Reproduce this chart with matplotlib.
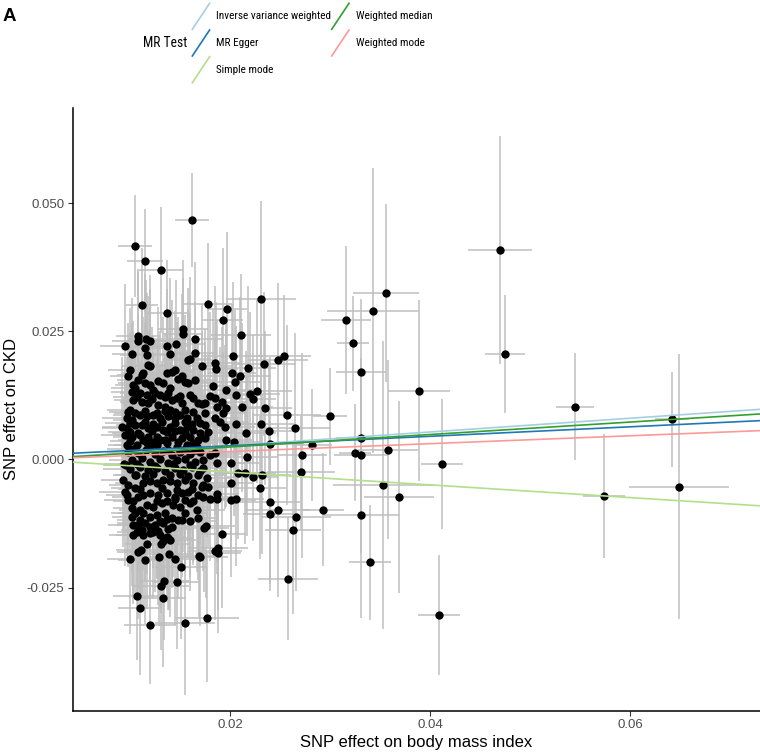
import numpy as np
import matplotlib
matplotlib.use("Agg")
import matplotlib.pyplot as plt
from matplotlib import font_manager
from matplotlib.lines import Line2D

# ---------------- data ----------------
bmi_top = [0.0105,0.0115,0.0131,0.0162,0.0112,0.0137,0.0178,0.0197,0.0193,0.0231,
           0.0211,0.0153,0.0153,0.0165,0.0165,0.0095,0.0102,0.0108,0.0108,0.0116,
           0.0120,0.0115,0.0117,0.0118,0.0137,0.0140,0.0146,0.0158,0.0160,0.0172,
           0.0185,0.0186,0.0203,0.0218,0.0234,0.0248,0.0254,0.0202,0.0210,0.0205]
ckd_top = [0.0417,0.0388,0.0370,0.0467,0.0302,0.0285,0.0303,0.0294,0.0272,0.0314,
           0.0242,0.0255,0.0245,0.0235,0.0208,0.0222,0.0206,0.0240,0.0232,0.0235,
           0.0231,0.0217,0.0204,0.0184,0.0222,0.0205,0.0225,0.0194,0.0197,0.0183,
           0.0189,0.0177,0.0201,0.0179,0.0186,0.0194,0.0201,0.0168,0.0163,0.0151]
se_bmi_top = [0.0017,0.0018,0.0022,0.0017,0.0016,0.0020,0.0024,0.0020,0.0020,0.0035,
              0.0030,0.0025,0.0020,0.0028,0.0022,0.0025,0.0020,0.0022,0.0026,0.0018,
              0.0024,0.0020,0.0027,0.0019,0.0023,0.0021,0.0029,0.0025,0.0020,0.0030,
              0.0026,0.0022,0.0030,0.0028,0.0032,0.0030,0.0027,0.0024,0.0031,0.0026]
se_ckd_top = [0.0100,0.0100,0.0123,0.0092,0.0110,0.0105,0.0120,0.0150,0.0140,0.0190,
              0.0120,0.0135,0.0110,0.0150,0.0100,0.0120,0.0110,0.0125,0.0140,0.0115,
              0.0130,0.0145,0.0120,0.0135,0.0110,0.0150,0.0125,0.0140,0.0160,0.0120,
              0.0150,0.0130,0.0145,0.0160,0.0140,0.0150,0.0120,0.0135,0.0155,0.0140]

bmi_mid = [0.0100,0.0098,0.0112,0.0113,0.0120,0.0137,0.0142,0.0145,0.0152,0.0155,
           0.0158,0.0165,0.0103,0.0105,0.0102,0.0115,0.0120,0.0123,0.0133,0.0140,
           0.0110,0.0117,0.0125,0.0130,0.0138,0.0142,0.0150,0.0152,0.0160,0.0168,
           0.0175,0.0103,0.0112,0.0118,0.0128,0.0135,0.0140,0.0100,0.0105,0.0097,
           0.0102,0.0110,0.0117,0.0123,0.0130,0.0138,0.0145,0.0150,0.0157,0.0167,
           0.0170,0.0092,0.0097,0.0105,0.0112,0.0118,0.0127,0.0133,0.0140,0.0150,
           0.0157,0.0163,0.0170,0.0095,0.0102,0.0110,0.0118,0.0127,0.0135,0.0142,
           0.0152,0.0160,0.0168,0.0175,0.0097,0.0107,0.0117,0.0127,0.0137,0.0147,
           0.0157,0.0167]
ckd_mid = [0.0175,0.0162,0.0165,0.0168,0.0182,0.0168,0.0171,0.0175,0.0162,0.0152,
           0.0149,0.0155,0.0145,0.0139,0.0132,0.0149,0.0145,0.0136,0.0149,0.0139,
           0.0129,0.0126,0.0129,0.0126,0.0129,0.0116,0.0123,0.0110,0.0126,0.0110,
           0.0110,0.0116,0.0113,0.0110,0.0106,0.0103,0.0097,0.0097,0.0090,0.0080,
           0.0077,0.0087,0.0084,0.0087,0.0080,0.0084,0.0080,0.0087,0.0080,0.0080,
           0.0071,0.0064,0.0061,0.0067,0.0067,0.0061,0.0064,0.0058,0.0064,0.0058,
           0.0064,0.0058,0.0051,0.0048,0.0044,0.0048,0.0044,0.0044,0.0038,0.0044,
           0.0041,0.0044,0.0038,0.0041,0.0028,0.0028,0.0032,0.0028,0.0032,0.0025,
           0.0028,0.0025]
se_bmi_mid = [0.0022,0.0018,0.0025,0.0020,0.0028,0.0021,0.0024,0.0019,0.0030,0.0023,
              0.0026,0.0020,0.0018,0.0024,0.0021,0.0027,0.0019,0.0025,0.0022,0.0029,
              0.0020,0.0023,0.0026,0.0018,0.0024,0.0021,0.0028,0.0020,0.0025,0.0031,
              0.0027,0.0019,0.0022,0.0026,0.0020,0.0024,0.0018,0.0023,0.0021,0.0025,
              0.0019,0.0027,0.0022,0.0020,0.0026,0.0023,0.0018,0.0029,0.0021,0.0024,
              0.0028,0.0020,0.0025,0.0019,0.0023,0.0027,0.0021,0.0024,0.0018,0.0026,
              0.0022,0.0029,0.0020,0.0024,0.0019,0.0026,0.0021,0.0023,0.0027,0.0020,
              0.0025,0.0022,0.0028,0.0024,0.0019,0.0023,0.0021,0.0026,0.0020,0.0024,
              0.0022,0.0027]
se_ckd_mid = [0.0120,0.0105,0.0135,0.0110,0.0150,0.0125,0.0140,0.0115,0.0160,0.0130,
              0.0145,0.0110,0.0125,0.0100,0.0135,0.0120,0.0155,0.0105,0.0130,0.0145,
              0.0115,0.0140,0.0100,0.0125,0.0150,0.0110,0.0135,0.0120,0.0160,0.0130,
              0.0145,0.0105,0.0125,0.0140,0.0115,0.0100,0.0130,0.0150,0.0110,0.0120,
              0.0135,0.0105,0.0145,0.0120,0.0100,0.0130,0.0115,0.0140,0.0125,0.0155,
              0.0110,0.0135,0.0100,0.0120,0.0145,0.0115,0.0130,0.0105,0.0140,0.0125,
              0.0150,0.0110,0.0135,0.0120,0.0100,0.0130,0.0145,0.0115,0.0125,0.0105,
              0.0140,0.0120,0.0135,0.0110,0.0130,0.0100,0.0145,0.0115,0.0125,0.0140,
              0.0110,0.0130]

bmi_fill = [0.0108,0.0128,0.0148,
            0.0107,0.0122,0.0135,0.0147,0.0163,
            0.0098,0.0115,0.0127,0.0135,0.0145,0.0155,0.0163,0.0175,
            0.0100,0.0115,0.0123,0.0132,0.0145,0.0155,0.0162,
            0.0100,0.0108,0.0122,0.0137,0.0145,0.0155,
            0.0100,0.0113,0.0123,0.0130,0.0148,0.0163,
            0.0103,0.0120,0.0138,0.0155,0.0165,
            0.0096,0.0107,0.0125,0.0143,0.0160,
            0.0105,0.0115,0.0123,0.0140,0.0150,0.0158,0.0168,
            0.0110,0.0132,0.0147,0.0162,
            0.0098,0.0127,0.0145,0.0163,
            0.0110,0.0130,0.0137,0.0152,
            0.0112,0.0128,0.0138]
ckd_fill = [0.0156,0.0153,0.0158,
            0.0121,0.0118,0.0122,0.0119,0.0120,
            0.0093,0.0095,0.0091,0.0094,0.0092,0.0096,0.0093,0.0090,
            0.0072,0.0074,0.0070,0.0073,0.0071,0.0074,0.0069,
            0.0054,0.0052,0.0056,0.0053,0.0055,0.0051,
            0.0036,0.0038,0.0034,0.0037,0.0035,0.0033,
            0.0020,0.0022,0.0018,0.0021,0.0019,
            -0.0010,-0.0008,-0.0012,-0.0009,-0.0011,
            -0.0030,-0.0032,-0.0028,-0.0031,-0.0029,-0.0033,-0.0030,
            -0.0058,-0.0056,-0.0060,-0.0057,
            -0.0080,-0.0082,-0.0078,-0.0081,
            -0.0118,-0.0120,-0.0116,-0.0119,
            -0.0137,-0.0139,-0.0135]
se_bmi_fill = [0.0021,0.0025,0.0019,
               0.0024,0.0020,0.0027,0.0022,0.0026,
               0.0019,0.0023,0.0026,0.0021,0.0028,0.0020,0.0024,0.0022,
               0.0025,0.0019,0.0023,0.0027,0.0021,0.0024,0.0020,
               0.0022,0.0026,0.0019,0.0024,0.0028,0.0021,
               0.0020,0.0025,0.0023,0.0027,0.0019,0.0024,
               0.0026,0.0021,0.0024,0.0020,0.0028,
               0.0023,0.0019,0.0025,0.0022,0.0027,
               0.0020,0.0024,0.0021,0.0026,0.0019,0.0023,0.0028,
               0.0022,0.0025,0.0020,0.0027,
               0.0024,0.0021,0.0026,0.0019,
               0.0023,0.0027,0.0020,0.0025,
               0.0021,0.0024,0.0026]
se_ckd_fill = [0.0130,0.0145,0.0120,
               0.0115,0.0140,0.0125,0.0150,0.0110,
               0.0135,0.0120,0.0145,0.0105,0.0130,0.0155,0.0115,0.0140,
               0.0125,0.0110,0.0140,0.0120,0.0150,0.0130,0.0105,
               0.0145,0.0115,0.0130,0.0120,0.0140,0.0110,
               0.0125,0.0150,0.0105,0.0135,0.0120,0.0145,
               0.0130,0.0115,0.0140,0.0125,0.0110,
               0.0120,0.0145,0.0130,0.0105,0.0135,
               0.0140,0.0120,0.0150,0.0115,0.0130,0.0125,0.0145,
               0.0110,0.0135,0.0120,0.0140,
               0.0130,0.0150,0.0115,0.0125,
               0.0140,0.0120,0.0135,0.0110,
               0.0125,0.0145,0.0130]

bmi_right = [0.0183,0.0196,0.0180,0.0185,0.0192,0.0187,0.0206,0.0220,0.0223,0.0227,
             0.0172,0.0196,0.0193,0.0212,0.0235,0.0257,0.0185,0.0190,0.0195,0.0206,
             0.0231,0.0239,0.0265,0.0175,0.0178,0.0216,0.0196,0.0204,0.0240,0.0185,
             0.0180,0.0217]
ckd_right = [0.0143,0.0136,0.0123,0.0119,0.0113,0.0103,0.0125,0.0128,0.0118,0.0134,
             0.0108,0.0100,0.0090,0.0102,0.0100,0.0087,0.0080,0.0074,0.0064,0.0069,
             0.0069,0.0056,0.0061,0.0067,0.0054,0.0052,0.0038,0.0034,0.0030,0.0012,
             0.0009,0.0005]
se_bmi_right = [0.0025,0.0030,0.0022,0.0028,0.0024,0.0032,0.0027,0.0030,0.0023,0.0035,
                0.0026,0.0029,0.0022,0.0031,0.0027,0.0034,0.0024,0.0028,0.0030,0.0025,
                0.0033,0.0028,0.0036,0.0023,0.0027,0.0030,0.0026,0.0029,0.0034,0.0024,
                0.0028,0.0031]
se_ckd_right = [0.0150,0.0130,0.0165,0.0120,0.0145,0.0170,0.0135,0.0160,0.0125,0.0180,
                0.0140,0.0155,0.0120,0.0165,0.0150,0.0175,0.0130,0.0145,0.0160,0.0125,
                0.0170,0.0140,0.0185,0.0135,0.0150,0.0160,0.0130,0.0145,0.0170,0.0120,
                0.0140,0.0155]

bmi_zero = [0.0098,0.0108,0.0116,0.0125,0.0133,0.0142,0.0150,0.0160,0.0170,
            0.0102,0.0112,0.0120,0.0130,0.0138,0.0147,0.0155,0.0165,0.0173,
            0.0100,0.0110,0.0118,0.0127,0.0135,0.0145,0.0153,0.0162,0.0170,
            0.0187,0.0173,0.0201,0.0208,0.0215,0.0223,0.0232,0.0177,0.0271,0.0094,0.0106]
ckd_zero = [0.0015,0.0012,0.0018,0.0010,0.0016,0.0008,0.0014,0.0010,0.0015,
            -0.0002,0.0002,-0.0004,0.0000,-0.0006,-0.0002,0.0001,-0.0004,-0.0001,
            -0.0018,-0.0014,-0.0020,-0.0016,-0.0022,-0.0017,-0.0021,-0.0015,-0.0022,
            -0.0007,-0.0017,-0.0007,-0.0026,-0.0026,-0.0034,-0.0030,-0.0037,-0.0025,-0.0008,-0.0030]
se_bmi_zero = [0.0021,0.0026,0.0019,0.0024,0.0028,0.0020,0.0025,0.0022,0.0027,
               0.0023,0.0019,0.0026,0.0021,0.0029,0.0024,0.0020,0.0025,0.0022,
               0.0027,0.0020,0.0024,0.0018,0.0026,0.0022,0.0028,0.0021,0.0025,
               0.0030,0.0024,0.0028,0.0022,0.0031,0.0026,0.0029,0.0023,0.0034,0.0020,0.0023]
se_ckd_zero = [0.0125,0.0140,0.0110,0.0150,0.0120,0.0135,0.0105,0.0145,0.0130,
               0.0115,0.0140,0.0125,0.0155,0.0110,0.0130,0.0145,0.0120,0.0135,
               0.0105,0.0150,0.0125,0.0140,0.0115,0.0130,0.0160,0.0120,0.0145,
               0.0135,0.0120,0.0150,0.0130,0.0140,0.0125,0.0155,0.0115,0.0110,0.0130,0.0120]

bmi_low = [0.0093,0.0098,0.0095,0.0097,0.0105,0.0113,0.0120,0.0127,0.0133,0.0140,
           0.0147,0.0155,0.0163,0.0172,0.0103,0.0108,0.0113,0.0120,0.0128,0.0137,
           0.0145,0.0152,0.0158,0.0168,0.0173,0.0102,0.0105,0.0110,0.0117,0.0123,
           0.0132,0.0137,0.0143,0.0150,0.0155,0.0160,0.0167,0.0102,0.0113,0.0120,
           0.0127,0.0135,0.0142,0.0148,0.0155,0.0160,0.0168,0.0103,0.0108,0.0115,
           0.0120,0.0125,0.0133,0.0142,0.0103,0.0107,0.0113,0.0120,0.0123,0.0130,
           0.0137,0.0140,0.0117,0.0131,0.0133,0.0138,0.0108,0.0111,0.0100,0.0115,
           0.0129,0.0139,0.0145,0.0151,0.0169,0.0134,0.0131,0.0147]
ckd_low = [-0.0040,-0.0050,-0.0063,-0.0069,-0.0056,-0.0046,-0.0043,-0.0046,-0.0040,-0.0043,
           -0.0046,-0.0040,-0.0046,-0.0053,-0.0082,-0.0073,-0.0069,-0.0066,-0.0069,-0.0066,
           -0.0073,-0.0066,-0.0063,-0.0069,-0.0073,-0.0095,-0.0105,-0.0099,-0.0089,-0.0092,
           -0.0085,-0.0082,-0.0089,-0.0092,-0.0079,-0.0085,-0.0099,-0.0112,-0.0105,-0.0112,
           -0.0108,-0.0105,-0.0115,-0.0118,-0.0105,-0.0121,-0.0115,-0.0128,-0.0128,-0.0125,
           -0.0131,-0.0128,-0.0125,-0.0131,-0.0147,-0.0141,-0.0147,-0.0144,-0.0141,-0.0147,
           -0.0151,-0.0157,-0.0166,-0.0165,-0.0160,-0.0154,-0.0181,-0.0177,-0.0195,-0.0196,
           -0.0190,-0.0184,-0.0194,-0.0210,-0.0188,-0.0237,-0.0247,-0.0240]
se_bmi_low = [0.0022,0.0019,0.0026,0.0021,0.0024,0.0028,0.0020,0.0025,0.0023,0.0027,
              0.0019,0.0024,0.0021,0.0029,0.0020,0.0026,0.0022,0.0025,0.0018,0.0027,
              0.0023,0.0020,0.0026,0.0022,0.0028,0.0019,0.0024,0.0021,0.0025,0.0020,
              0.0027,0.0023,0.0019,0.0026,0.0022,0.0024,0.0028,0.0020,0.0025,0.0021,
              0.0023,0.0027,0.0019,0.0024,0.0022,0.0026,0.0020,0.0025,0.0021,0.0028,
              0.0023,0.0019,0.0026,0.0022,0.0024,0.0020,0.0027,0.0021,0.0025,0.0023,
              0.0019,0.0026,0.0022,0.0028,0.0020,0.0024,0.0021,0.0025,0.0023,0.0027,
              0.0020,0.0024,0.0022,0.0026,0.0021,0.0025,0.0028,0.0023]
se_ckd_low = [0.0130,0.0115,0.0145,0.0120,0.0140,0.0105,0.0135,0.0150,0.0125,0.0110,
              0.0140,0.0120,0.0155,0.0130,0.0115,0.0145,0.0125,0.0135,0.0110,0.0150,
              0.0120,0.0140,0.0130,0.0115,0.0145,0.0125,0.0155,0.0110,0.0135,0.0120,
              0.0150,0.0130,0.0140,0.0115,0.0125,0.0145,0.0120,0.0135,0.0110,0.0150,
              0.0125,0.0140,0.0130,0.0155,0.0115,0.0135,0.0120,0.0145,0.0125,0.0110,
              0.0140,0.0130,0.0150,0.0120,0.0135,0.0115,0.0145,0.0125,0.0130,0.0140,
              0.0120,0.0150,0.0125,0.0135,0.0115,0.0140,0.0130,0.0120,0.0145,0.0125,
              0.0135,0.0110,0.0130,0.0140,0.0120,0.0115,0.0125,0.0130]

bmi_low2 = [0.0230,0.0201,0.0201,0.0206,0.0192,0.0188,0.0185,0.0188,0.0176,0.0174,
            0.0187,0.0187,0.0180,0.0170,0.0240,0.0240,0.0248,0.0266,0.0263,0.0258,
            0.0107,0.0110,0.0120,0.0133,0.0155,0.0177,0.0173,0.0178]
ckd_low2 = [-0.0055,-0.0045,-0.0079,-0.0078,-0.0145,-0.0173,-0.0178,-0.0183,-0.0130,-0.0134,
            -0.0068,-0.0078,-0.0078,-0.0190,-0.0084,-0.0107,-0.0098,-0.0112,-0.0137,-0.0233,
            -0.0266,-0.0290,-0.0324,-0.0271,-0.0320,-0.0310,-0.0050,-0.0053]
se_bmi_low2 = [0.0026,0.0022,0.0025,0.0028,0.0024,0.0030,0.0027,0.0023,0.0029,0.0025,
               0.0022,0.0026,0.0024,0.0028,0.0030,0.0027,0.0032,0.0035,0.0028,0.0030,
               0.0024,0.0022,0.0026,0.0023,0.0030,0.0032,0.0025,0.0028]
se_ckd_low2 = [0.0140,0.0125,0.0150,0.0130,0.0145,0.0120,0.0135,0.0155,0.0140,0.0125,
               0.0130,0.0145,0.0120,0.0135,0.0160,0.0150,0.0170,0.0145,0.0165,0.0120,
               0.0125,0.0130,0.0114,0.0135,0.0140,0.0125,0.0130,0.0120]

bmi_out = [0.0470,0.0475,0.0545,0.0642,0.0356,0.0343,0.0316,0.0323,0.0331,0.0389,
           0.0300,0.0282,0.0331,0.0358,0.0325,0.0331,0.0412,0.0272,0.0574,0.0649,
           0.0353,0.0369,0.0293,0.0331,0.0340,0.0409]
ckd_out = [0.0409,0.0206,0.0103,0.0078,0.0325,0.0290,0.0272,0.0227,0.0171,0.0134,
           0.0084,0.0028,0.0041,0.0019,0.0013,0.0008,-0.0009,0.0008,-0.0071,-0.0053,
           -0.0050,-0.0073,-0.0098,-0.0109,-0.0201,-0.0303]
se_bmi_out = [0.0032,0.0020,0.0019,0.0017,0.0033,0.0046,0.0025,0.0016,0.0025,0.0031,
              0.0017,0.0020,0.0025,0.0030,0.0016,0.0027,0.0021,0.0025,0.0021,0.0050,
              0.0050,0.0035,0.0021,0.0038,0.0021,0.0021]
se_ckd_out = [0.0222,0.0115,0.0105,0.0092,0.0173,0.0278,0.0145,0.0093,0.0143,0.0177,
              0.0094,0.0110,0.0150,0.0175,0.0095,0.0190,0.0127,0.0200,0.0121,0.0259,
              0.0281,0.0187,0.0110,0.0200,0.0112,0.0117]

methods = ["Inverse variance weighted", "MR Egger", "Simple mode",
           "Weighted median", "Weighted mode"]
slopes = [0.134, 0.0925, -0.124, 0.1216, 0.077]
intercepts = [0.0, 0.00082, 0.0, 0.0, 0.0]
colors = ["#a6cee3", "#1f78b4", "#b2df8a", "#33a02c", "#fb9a99"]

x_ticks = [0.02, 0.04, 0.06]
x_ticklabels = ["0.02", "0.04", "0.06"]
y_ticks = [-0.025, 0.0, 0.025, 0.050]
y_ticklabels = ["-0.025", "0.000", "0.025", "0.050"]

# ---------------- assemble ----------------
bx = np.array(bmi_top + bmi_mid + bmi_fill + bmi_right + bmi_zero + bmi_low + bmi_low2 + bmi_out)
by = np.array(ckd_top + ckd_mid + ckd_fill + ckd_right + ckd_zero + ckd_low + ckd_low2 + ckd_out)
sx = np.array(se_bmi_top + se_bmi_mid + se_bmi_fill + se_bmi_right + se_bmi_zero + se_bmi_low
              + se_bmi_low2 + se_bmi_out)
sy = np.array(se_ckd_top + se_ckd_mid + se_ckd_fill + se_ckd_right + se_ckd_zero + se_ckd_low
              + se_ckd_low2 + se_ckd_out)

def has_font(name):
    try:
        font_manager.findfont(font_manager.FontProperties(family=name), fallback_to_default=False)
        return True
    except Exception:
        return False

main_font = "Liberation Sans" if has_font("Liberation Sans") else "DejaVu Sans"
plt.rcParams["font.family"] = [main_font, "DejaVu Sans"]

# condensed font for the legend (reference legend text is narrow)
legend_font = main_font
legend_size, title_size = 6.9, 8.3
for cand, ls, ts in [("Liberation Sans Narrow", 8.0, 9.8),
                     ("Roboto Condensed", 8.1, 9.8),
                     ("Arial Narrow", 8.0, 9.8)]:
    if has_font(cand):
        legend_font, legend_size, title_size = cand, ls, ts
        break

W, H = 760, 752
fig = plt.figure(figsize=(W / 100, H / 100), dpi=100)
fig.patch.set_facecolor("white")

ax_l, ax_r, ax_t, ax_b = 72.7, 760.0, 108.0, 711.0
ax = fig.add_axes([ax_l / W, 1 - ax_b / H, (ax_r - ax_l) / W, (ax_b - ax_t) / H])
ax.set_xlim(0.00427, 0.0730)
ax.set_ylim(-0.0491, 0.0686)

grey = "#bebebe"
ax.errorbar(bx, by, yerr=sy, fmt="none", ecolor=grey, elinewidth=1.1, capsize=0, zorder=1)
ax.errorbar(bx, by, xerr=sx, fmt="none", ecolor=grey, elinewidth=1.1, capsize=0, zorder=1)
ax.scatter(bx, by, s=36, color="black", linewidths=0, zorder=3)

for m, b, a, c in zip(methods, slopes, intercepts, colors):
    ax.axline((0.0, a), slope=b, color=c, lw=1.2, zorder=4)

for side in ["top", "right"]:
    ax.spines[side].set_visible(False)
for side in ["left", "bottom"]:
    ax.spines[side].set_linewidth(1.1)
    ax.spines[side].set_color("black")

ax.set_xticks(x_ticks)
ax.set_xticklabels(x_ticklabels)
ax.set_yticks(y_ticks)
ax.set_yticklabels(y_ticklabels)
ax.tick_params(axis="both", length=3.5, width=0.8, color="#333333",
               labelsize=9.5, labelcolor="#4d4d4d", pad=2.5)

def px(x, y):
    return x / W, 1 - y / H

fig.text(*px(416.4, 742), "SNP effect on body mass index", ha="center", va="center",
         fontsize=12, color="black")
fig.text(*px(12, 409.5), "SNP effect on CKD", ha="center", va="center",
         rotation=90, fontsize=12, color="black")
fig.text(*px(3, 8), "A", ha="left", va="top", fontsize=13.5, fontweight="bold", color="black")

# ---------------- legend ----------------
fig.text(*px(143, 43), "MR Test", ha="left", va="center", fontsize=title_size,
         family=[legend_font, "DejaVu Sans"], color="black")
key_x = [192.3, 192.3, 192.3, 331.7, 331.7]
key_row = [0, 1, 2, 0, 1]
for m, c, kx, r in zip(methods, colors, key_x, key_row):
    y_bot = 29.3 + 26.7 * r
    y_top = 3.3 + 26.7 * r
    x0, y0 = px(kx, y_bot)
    x1, y1 = px(kx + 17.3, y_top)
    fig.add_artist(Line2D([x0, x1], [y0, y1], transform=fig.transFigure, color=c, lw=1.2))
    tx, ty = px(kx + 24, 16.3 + 26.7 * r)
    fig.text(tx, ty, m, ha="left", va="center", fontsize=legend_size,
             family=[legend_font, "DejaVu Sans"], color="black")

fig.savefig("out.png", dpi=100, facecolor="white")
